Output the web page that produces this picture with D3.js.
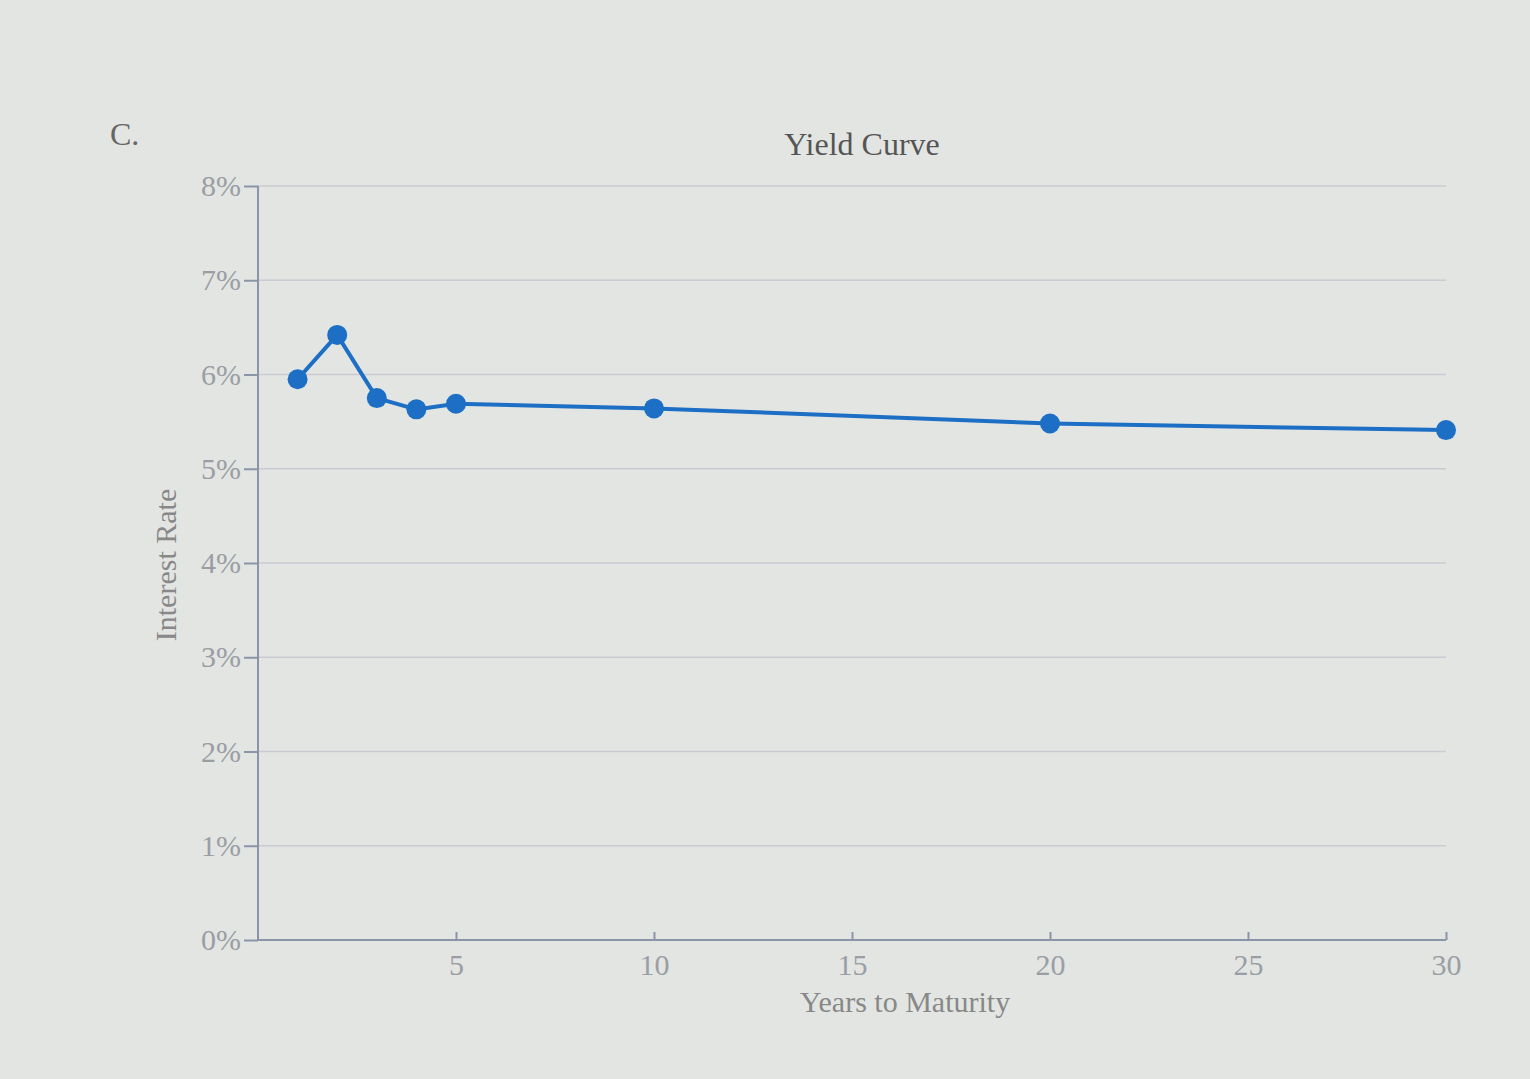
<!DOCTYPE html>
<html><head><meta charset="utf-8">
<script src="https://cdn.jsdelivr.net/npm/d3@7"></script>
<style>body{margin:0;background:#e3e5e3;}svg{display:block;}</style>
</head><body><svg id="chart" width="1530" height="1079"></svg>
<script>
var years = [1, 2, 3, 4, 5, 10, 20, 30];
var rates = [5.95, 6.42, 5.75, 5.63, 5.69, 5.64, 5.48, 5.41];
var yTicks = [0, 1, 2, 3, 4, 5, 6, 7, 8];
var xTicks = [5, 10, 15, 20, 25, 30];

var svg = d3.select("#chart");
var x = d3.scaleLinear().domain([0, 30]).range([258, 1446]);
var y = d3.scaleLinear().domain([0, 8]).range([940, 186]);
var font = "Liberation Serif, serif";

// grid
svg.append("g").selectAll("line").data(yTicks.slice(1)).enter().append("line")
  .attr("x1", x(0)).attr("x2", 1446).attr("y1", y).attr("y2", y)
  .attr("stroke", "#c8ccd2").attr("stroke-width", 1.5);

var yAxis = svg.append("g").attr("transform", "translate(" + x(0) + ",0)")
  .call(d3.axisLeft(y).tickValues(yTicks).tickSize(14).tickFormat(function(d){return d + "%";}));
var xAxis = svg.append("g").attr("transform", "translate(0," + y(0) + ")")
  .call(d3.axisBottom(x).tickValues(xTicks).tickSize(-8).tickPadding(14));
[yAxis, xAxis].forEach(function(a){
  a.selectAll("path,line").attr("stroke", "#8a95a8").attr("stroke-width", 2);
  a.selectAll("text").attr("font-family", font).attr("font-size", 30).attr("fill", "#9a9ea4");
});
yAxis.select(".domain").attr("d", "M0," + y(0) + "V" + y(8));
xAxis.select(".domain").attr("d", "M" + x(0) + ",0H" + x(30));

var line = d3.line().x(function(d, i){return x(years[i]);}).y(function(d){return y(d);});
svg.append("path").datum(rates).attr("d", line).attr("fill", "none")
  .attr("stroke", "#1c6fc4").attr("stroke-width", 4);
svg.append("g").selectAll("circle").data(rates).enter().append("circle")
  .attr("cx", function(d, i){return x(years[i]);}).attr("cy", y).attr("r", 10)
  .attr("fill", "#1c6fc4");

svg.append("text").attr("x", 862).attr("y", 155).attr("text-anchor", "middle")
  .attr("font-family", font).attr("font-size", 32).attr("fill", "#555").text("Yield Curve");
svg.append("text").attr("x", 110).attr("y", 145)
  .attr("font-family", font).attr("font-size", 32).attr("fill", "#666").text("C.");
svg.append("text").attr("x", 905).attr("y", 1012).attr("text-anchor", "middle")
  .attr("font-family", font).attr("font-size", 30).attr("fill", "#888").text("Years to Maturity");
svg.append("text").attr("transform", "translate(176,565) rotate(-90)").attr("text-anchor", "middle")
  .attr("font-family", font).attr("font-size", 30).attr("fill", "#888").text("Interest Rate");
</script></body></html>
